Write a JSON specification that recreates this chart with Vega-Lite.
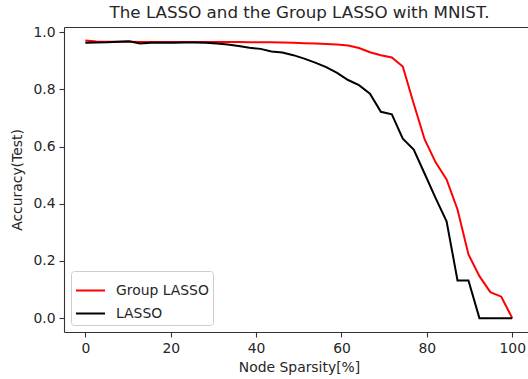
{
  "$schema": "https://vega.github.io/schema/vega-lite/v6.json",
  "width": 464,
  "height": 305,
  "autosize": {"type": "none"},
  "padding": {"left": 64, "top": 27, "right": 0, "bottom": 47},
  "background": "white",
  "config": {
    "font": "DejaVu Sans",
    "view": {"stroke": null},
    "axis": {
      "grid": false,
      "domainColor": "#333333",
      "domainWidth": 1.1,
      "tickColor": "#333333",
      "tickWidth": 1.1,
      "tickSize": 5,
      "labelFont": "DejaVu Sans",
      "labelFontSize": 13.9,
      "labelColor": "#262626",
      "labelPadding": 4,
      "titleFont": "DejaVu Sans",
      "titleFontSize": 13.9,
      "titleFontWeight": "normal",
      "titleColor": "#262626"
    }
  },
  "title": {
    "text": "The LASSO and the Group LASSO with MNIST.",
    "font": "DejaVu Sans",
    "fontSize": 16.7,
    "fontWeight": "normal",
    "color": "#262626",
    "anchor": "middle",
    "frame": "group",
    "baseline": "alphabetic",
    "offset": -9,
    "dx": 3.5
  },
  "data": {
    "values": [
      {"s": 0, "a": 0.971, "m": "Group LASSO"},
      {"s": 2.564, "a": 0.968, "m": "Group LASSO"},
      {"s": 5.128, "a": 0.967, "m": "Group LASSO"},
      {"s": 7.692, "a": 0.967, "m": "Group LASSO"},
      {"s": 10.256, "a": 0.967, "m": "Group LASSO"},
      {"s": 12.821, "a": 0.966, "m": "Group LASSO"},
      {"s": 15.385, "a": 0.966, "m": "Group LASSO"},
      {"s": 17.949, "a": 0.966, "m": "Group LASSO"},
      {"s": 20.513, "a": 0.966, "m": "Group LASSO"},
      {"s": 23.077, "a": 0.966, "m": "Group LASSO"},
      {"s": 25.641, "a": 0.966, "m": "Group LASSO"},
      {"s": 28.205, "a": 0.966, "m": "Group LASSO"},
      {"s": 30.769, "a": 0.966, "m": "Group LASSO"},
      {"s": 33.333, "a": 0.966, "m": "Group LASSO"},
      {"s": 35.897, "a": 0.966, "m": "Group LASSO"},
      {"s": 38.462, "a": 0.965, "m": "Group LASSO"},
      {"s": 41.026, "a": 0.965, "m": "Group LASSO"},
      {"s": 43.59, "a": 0.965, "m": "Group LASSO"},
      {"s": 46.154, "a": 0.964, "m": "Group LASSO"},
      {"s": 48.718, "a": 0.963, "m": "Group LASSO"},
      {"s": 51.282, "a": 0.962, "m": "Group LASSO"},
      {"s": 53.846, "a": 0.961, "m": "Group LASSO"},
      {"s": 56.41, "a": 0.959, "m": "Group LASSO"},
      {"s": 58.974, "a": 0.957, "m": "Group LASSO"},
      {"s": 61.538, "a": 0.954, "m": "Group LASSO"},
      {"s": 64.103, "a": 0.945, "m": "Group LASSO"},
      {"s": 66.667, "a": 0.93, "m": "Group LASSO"},
      {"s": 69.231, "a": 0.92, "m": "Group LASSO"},
      {"s": 71.795, "a": 0.912, "m": "Group LASSO"},
      {"s": 74.359, "a": 0.88, "m": "Group LASSO"},
      {"s": 76.923, "a": 0.75, "m": "Group LASSO"},
      {"s": 79.487, "a": 0.625, "m": "Group LASSO"},
      {"s": 82.051, "a": 0.545, "m": "Group LASSO"},
      {"s": 84.615, "a": 0.485, "m": "Group LASSO"},
      {"s": 87.179, "a": 0.38, "m": "Group LASSO"},
      {"s": 89.744, "a": 0.223, "m": "Group LASSO"},
      {"s": 92.308, "a": 0.147, "m": "Group LASSO"},
      {"s": 94.872, "a": 0.091, "m": "Group LASSO"},
      {"s": 97.436, "a": 0.075, "m": "Group LASSO"},
      {"s": 100, "a": 0.0, "m": "Group LASSO"},
      {"s": 0, "a": 0.963, "m": "LASSO"},
      {"s": 2.564, "a": 0.964, "m": "LASSO"},
      {"s": 5.128, "a": 0.965, "m": "LASSO"},
      {"s": 7.692, "a": 0.967, "m": "LASSO"},
      {"s": 10.256, "a": 0.969, "m": "LASSO"},
      {"s": 12.821, "a": 0.961, "m": "LASSO"},
      {"s": 15.385, "a": 0.963, "m": "LASSO"},
      {"s": 17.949, "a": 0.963, "m": "LASSO"},
      {"s": 20.513, "a": 0.963, "m": "LASSO"},
      {"s": 23.077, "a": 0.964, "m": "LASSO"},
      {"s": 25.641, "a": 0.964, "m": "LASSO"},
      {"s": 28.205, "a": 0.963, "m": "LASSO"},
      {"s": 30.769, "a": 0.961, "m": "LASSO"},
      {"s": 33.333, "a": 0.957, "m": "LASSO"},
      {"s": 35.897, "a": 0.952, "m": "LASSO"},
      {"s": 38.462, "a": 0.946, "m": "LASSO"},
      {"s": 41.026, "a": 0.942, "m": "LASSO"},
      {"s": 43.59, "a": 0.933, "m": "LASSO"},
      {"s": 46.154, "a": 0.929, "m": "LASSO"},
      {"s": 48.718, "a": 0.92, "m": "LASSO"},
      {"s": 51.282, "a": 0.908, "m": "LASSO"},
      {"s": 53.846, "a": 0.894, "m": "LASSO"},
      {"s": 56.41, "a": 0.878, "m": "LASSO"},
      {"s": 58.974, "a": 0.858, "m": "LASSO"},
      {"s": 61.538, "a": 0.833, "m": "LASSO"},
      {"s": 64.103, "a": 0.815, "m": "LASSO"},
      {"s": 66.667, "a": 0.785, "m": "LASSO"},
      {"s": 69.231, "a": 0.722, "m": "LASSO"},
      {"s": 71.795, "a": 0.713, "m": "LASSO"},
      {"s": 74.359, "a": 0.628, "m": "LASSO"},
      {"s": 76.923, "a": 0.59, "m": "LASSO"},
      {"s": 79.487, "a": 0.505, "m": "LASSO"},
      {"s": 82.051, "a": 0.42, "m": "LASSO"},
      {"s": 84.615, "a": 0.339, "m": "LASSO"},
      {"s": 87.179, "a": 0.132, "m": "LASSO"},
      {"s": 89.744, "a": 0.132, "m": "LASSO"},
      {"s": 92.308, "a": 0.0, "m": "LASSO"},
      {"s": 94.872, "a": 0.0, "m": "LASSO"},
      {"s": 97.436, "a": 0.0, "m": "LASSO"},
      {"s": 100, "a": 0.0, "m": "LASSO"}
    ]
  },
  "resolve": {"axis": {"x": "independent"}},
  "layer": [
    {
      "mark": {"type": "line", "strokeWidth": 2, "clip": true},
      "encoding": {
        "x": {
          "field": "s",
          "type": "quantitative",
          "scale": {"domain": [-5, 103.69], "nice": false, "zero": false},
          "axis": {
            "orient": "bottom",
            "values": [0, 20, 40, 60, 80, 100],
            "title": "Node Sparsity[%]",
            "titleX": 235,
            "titlePadding": 6
          }
        },
        "y": {
          "field": "a",
          "type": "quantitative",
          "scale": {"domain": [-0.0485, 1.0185], "nice": false, "zero": false},
          "axis": {
            "values": [0, 0.2, 0.4, 0.6, 0.8, 1.0],
            "format": ".1f",
            "title": "Accuracy(Test)",
            "titlePadding": 8
          }
        },
        "color": {
          "field": "m",
          "type": "nominal",
          "scale": {"domain": ["Group LASSO", "LASSO"], "range": ["#ff0000", "#000000"]},
          "legend": {
            "title": null,
            "orient": "bottom-left",
            "offset": 7,
            "symbolType": "stroke",
            "symbolSize": 841,
            "symbolStrokeWidth": 2,
            "labelFont": "DejaVu Sans",
            "labelFontSize": 13.9,
            "labelColor": "#262626",
            "labelOffset": 10,
            "rowPadding": -2,
            "padding": 4,
            "strokeColor": "#cccccc",
            "fillColor": "rgba(255,255,255,0.8)",
            "cornerRadius": 3
          }
        }
      }
    },
    {
      "mark": {"type": "line", "opacity": 0},
      "encoding": {
        "x": {
          "field": "s",
          "type": "quantitative",
          "axis": {"orient": "top", "labels": false, "ticks": false, "title": null, "minExtent": 0, "maxExtent": 0}
        },
        "y": {"field": "a", "type": "quantitative"},
        "detail": {"field": "m"}
      }
    }
  ]
}
